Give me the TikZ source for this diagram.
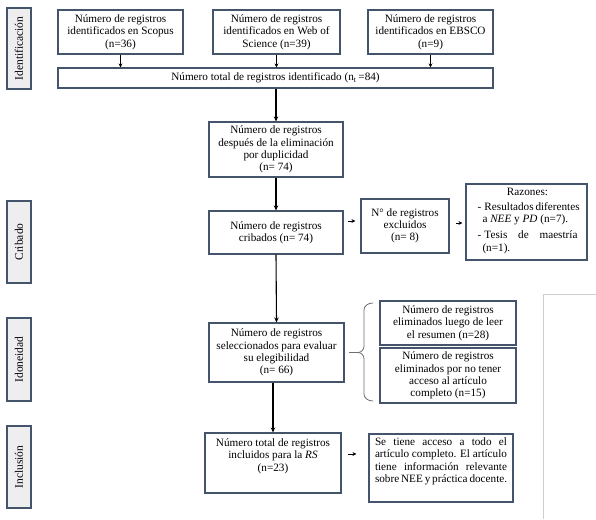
\documentclass[tikz,border=0pt]{standalone}
\usepackage{fontspec}
\setmainfont{Liberation Serif}
\usetikzlibrary{arrows.meta,calc}
\definecolor{bord}{RGB}{68,84,106}
\definecolor{sidefill}{RGB}{238,238,238}
\definecolor{brc}{RGB}{110,110,110}
\definecolor{frm}{RGB}{205,205,205}
\begin{document}
\begin{tikzpicture}[x=1pt,y=-1pt,
  box/.style={draw=bord,line width=1.1pt,fill=white,align=center,inner sep=2pt,
    font=\fontsize{11.2}{12.3}\selectfont},
  side/.style={draw=bord,line width=1.3pt,fill=sidefill,rotate=90,inner sep=1pt,
    font=\fontsize{11.5}{12}\selectfont},
  txt/.style={align=center,inner sep=0pt,font=\fontsize{11.2}{12.3}\selectfont},
  arr/.style={-{Stealth[length=5pt,width=4.5pt]},line width=1.1pt,black},
  sarr/.style={-{Stealth[length=4pt,width=4pt]},line width=0.9pt,black}]
\useasboundingbox (0,0) rectangle (596,519);
% side labels
\node[side,minimum width=81,minimum height=24] (sid) at (19,48.5) {Identificación};
\node[side,minimum width=82,minimum height=24] (scr) at (19,242) {Cribado};
\node[side,minimum width=83,minimum height=24] (sio) at (19,359.5) {Idoneidad};
\node[side,minimum width=82,minimum height=24] (sin) at (19,467) {Inclusión};
% top boxes
\node[box,minimum width=125,minimum height=44] (scopus) at (120.5,32)
  {Número de registros\\identificados en Scopus\\(n=36)};
\node[box,minimum width=127,minimum height=44] (wos) at (276.5,32)
  {Número de registros\\identificados en Web of\\Science (n=39)};
\node[box,minimum width=125,minimum height=44] (ebsco) at (430.5,32)
  {Número de registros\\identificados en EBSCO\\(n=9)};
\node[box,minimum width=435,minimum height=20] (total) at (275.5,78)
  {Número total de registros identificado (n\textsubscript{t}\,=84)};
\node[box,minimum width=134,minimum height=55] (dup) at (276,149.5)
  {Número de registros\\después de la eliminación\\por duplicidad\\(n= 74)};
\node[box,minimum width=134,minimum height=43] (crib) at (276,232.5)
  {Número de registros\\cribados (n= 74)};
\node[box,minimum width=88,minimum height=54] (excl) at (405,226)
  {N° de registros\\excluidos\\(n= 8)};
\node[box,minimum width=121,minimum height=76] (raz) at (526.5,222) {};
\node[txt,anchor=north,align=left] (raztxt) at ([yshift=-5pt,xshift=1pt]raz.north)
  {\makebox[100pt][c]{Razones:}\\[2pt]
   \makebox[7pt][l]{-}\makebox[93pt][s]{Resultados diferentes}\\
   \makebox[5pt][l]{}a \textit{NEE} y \textit{PD} (n=7).\\[4pt]
   \makebox[7pt][l]{-}\makebox[93pt][s]{Tesis de maestría}\\
   \makebox[5pt][l]{}(n=1).};
\node[box,minimum width=135,minimum height=59] (sel) at (276.5,352.5)
  {Número de registros\\seleccionados para evaluar\\su elegibilidad\\(n= 66)};
\node[box,minimum width=136,minimum height=44] (el1) at (448,323)
  {Número de registros\\eliminados luego de leer\\el resumen (n=28)};
\node[box,minimum width=136,minimum height=55] (el2) at (448,375.5)
  {Número de registros\\eliminados por no tener\\acceso al artículo\\completo (n=15)};
\node[box,minimum width=136,minimum height=60] (inc) at (273,463) {};
\node[txt,anchor=north] (inctxt) at ([yshift=-6pt]inc.north)
  {Número total de registros\\incluidos para la \textit{RS}\\(n=23)};
\node[box,minimum width=144,minimum height=68] (fin) at (441,468) {};
\node[txt,anchor=north,align=left] (fintxt) at ([yshift=-4pt]fin.north)
  {\makebox[132pt][s]{Se tiene acceso a todo el}\\
   \makebox[132pt][s]{artículo completo. El artículo}\\
   \makebox[132pt][s]{tiene información relevante}\\
   \makebox[132pt][s]{sobre NEE y práctica docente.}};
% arrows
\draw[sarr] (scopus.south) -- (scopus.south |- total.north);
\draw[sarr] (wos.south) -- (wos.south |- total.north);
\draw[sarr] (ebsco.south) -- (ebsco.south |- total.north);
\draw[arr] (total.south -| dup.north) -- (dup.north);
\draw[arr] (dup.south) -- (crib.north);
\draw[arr] (crib.south) -- (sel.north);
\draw[arr] (sel.south -| inc.north) -- (inc.north);
\draw[sarr,shorten <=4pt,shorten >=5pt] ([yshift=5pt]excl.west -| crib.east) -- ([yshift=5pt]excl.west);
\draw[sarr,shorten <=6pt,shorten >=3pt] ([yshift=-1pt]raz.west -| excl.east) -- ([yshift=-1pt]raz.west);
\draw[sarr,shorten <=6pt,shorten >=12pt] ([yshift=9pt]inc.east) -- ([yshift=9pt]inc.east -| fin.west);
% brace
\draw[brc,line width=0.8pt] (373,303) to[out=180,in=90] (364,310) -- (364,346)
  to[out=-90,in=0] (358,352.5) -- (349,352.5);
\draw[brc,line width=0.8pt] (358,352.5) to[out=0,in=90] (364,359) -- (364,394)
  to[out=-90,in=180] (373,401);
% frame at right
\draw[frm,line width=0.8pt] (543,519) -- (543,294) -- (596,294);
\end{tikzpicture}
\end{document}
